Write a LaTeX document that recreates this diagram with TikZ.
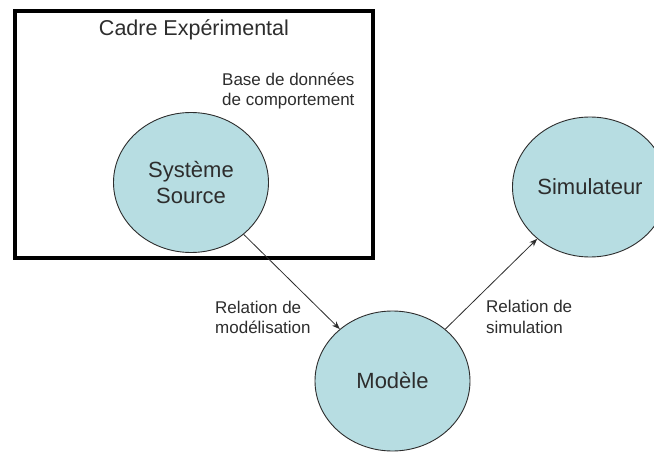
\documentclass[tikz,border=0pt]{standalone}
\usepackage{fontspec}
\setmainfont{Liberation Sans}
\usetikzlibrary{shapes.geometric,arrows.meta}
\definecolor{bubble}{RGB}{183,221,226}
\definecolor{ink}{RGB}{45,45,45}
\tikzset{
  bubblenode/.style={ellipse, draw=ink, line width=0.9pt, fill=bubble,
    minimum width=155pt, minimum height=140pt, inner sep=0pt, text=ink,
    align=center, font=\fontsize{22}{26}\selectfont},
  smalltext/.style={inner sep=0pt, text=ink, align=left,
    font=\fontsize{17}{20.5}\selectfont},
  frametext/.style={inner sep=0pt, text=ink, font=\fontsize{21.5}{25}\selectfont},
  relarrow/.style={draw=ink, line width=0.8pt, -{Stealth[length=8pt,width=6pt]}},
  frame/.style={draw=black, line width=4pt}
}
\begin{document}
\begin{tikzpicture}[x=1pt,y=-1pt]
\clip (0,0) rectangle (654,452);
\fill[white] (0,0) rectangle (654,452);
% experimental frame
\draw[frame] (15,11) rectangle (373,258);
\node[frametext, anchor=base] (cadre) at (194,36) {Cadre Expérimental};
\node[smalltext, anchor=base west] (base) at (222,106) {Base de données\\de comportement};
% bubbles
\node[bubblenode] (src) at (191,182.5) {Système\\Source};
\node[bubblenode] (mod) at (392.5,381) {Modèle};
\node[bubblenode] (sim) at (590,187) {Simulateur};
% connectors
\draw[relarrow] (src) -- (mod);
\draw[relarrow] (mod) -- (sim);
% labels
\node[smalltext, anchor=base west] (rmod) at (215,333.5) {Relation de\\modélisation};
\node[smalltext, anchor=base west] (rsim) at (486,333) {Relation de\\simulation};
\end{tikzpicture}
\end{document}
